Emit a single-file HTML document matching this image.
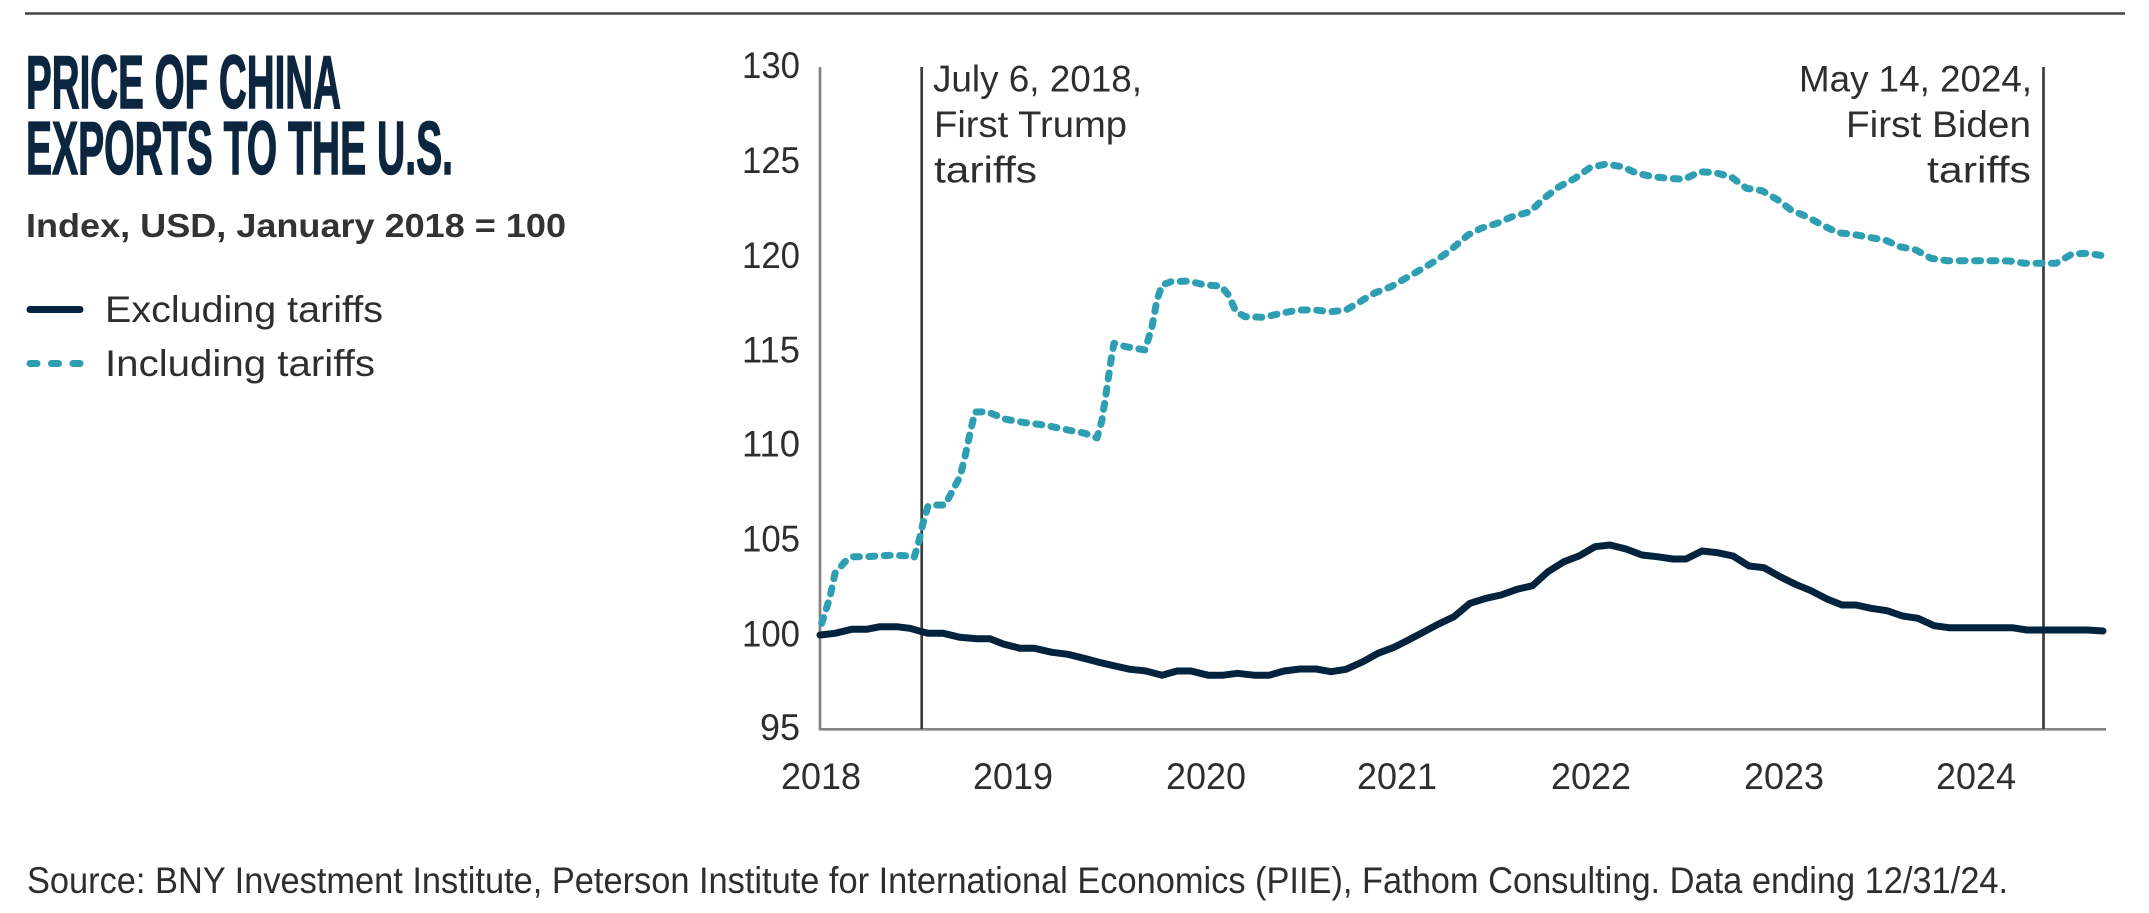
<!DOCTYPE html>
<html>
<head>
<meta charset="utf-8">
<style>
  html, body { margin: 0; padding: 0; background: #ffffff; }
  svg { display: block; }
  .lbl { font-family: "Liberation Sans", sans-serif; font-size: 37.5px; fill: #2e2e2e; }
</style>
</head>
<body>
<svg width="2149" height="913" viewBox="0 0 2149 913" xmlns="http://www.w3.org/2000/svg">
  <rect x="0" y="0" width="2149" height="913" fill="#ffffff"/>
  <!-- top rule -->
  <line x1="25" y1="13.5" x2="2125" y2="13.5" stroke="#444444" stroke-width="2.5"/>

  <!-- Title -->
  <text x="26" y="108" font-family="Liberation Sans, sans-serif" font-weight="bold" font-size="75" fill="#0c2640" stroke="#0c2640" stroke-width="1.5" textLength="315" lengthAdjust="spacingAndGlyphs">PRICE OF CHINA</text>
  <text x="26" y="174" font-family="Liberation Sans, sans-serif" font-weight="bold" font-size="75" fill="#0c2640" stroke="#0c2640" stroke-width="1.5" textLength="427" lengthAdjust="spacingAndGlyphs">EXPORTS TO THE U.S.</text>

  <!-- Subtitle -->
  <text x="26" y="237" font-family="Liberation Sans, sans-serif" font-weight="bold" font-size="33" fill="#333333" textLength="540" lengthAdjust="spacingAndGlyphs">Index, USD, January 2018 = 100</text>

  <!-- Legend -->
  <line x1="30" y1="309.5" x2="80" y2="309.5" stroke="#02233d" stroke-width="7" stroke-linecap="round"/>
  <text class="lbl" x="105" y="322" font-size="38" textLength="278" lengthAdjust="spacingAndGlyphs">Excluding tariffs</text>
  <line x1="30" y1="363.5" x2="37" y2="363.5" stroke="#2e9fb2" stroke-width="7" stroke-linecap="round"/>
  <line x1="51.5" y1="363.5" x2="58.5" y2="363.5" stroke="#2e9fb2" stroke-width="7" stroke-linecap="round"/>
  <line x1="73" y1="363.5" x2="80" y2="363.5" stroke="#2e9fb2" stroke-width="7" stroke-linecap="round"/>
  <text class="lbl" x="105" y="376" font-size="38" textLength="270" lengthAdjust="spacingAndGlyphs">Including tariffs</text>

  <!-- Y axis labels -->
  <g class="lbl" text-anchor="end">
    <text x="800" y="78" textLength="58" lengthAdjust="spacingAndGlyphs">130</text>
    <text x="800" y="173" textLength="58" lengthAdjust="spacingAndGlyphs">125</text>
    <text x="800" y="268" textLength="58" lengthAdjust="spacingAndGlyphs">120</text>
    <text x="800" y="362.5" textLength="58" lengthAdjust="spacingAndGlyphs">115</text>
    <text x="800" y="456.7" textLength="58" lengthAdjust="spacingAndGlyphs">110</text>
    <text x="800" y="551.7" textLength="58" lengthAdjust="spacingAndGlyphs">105</text>
    <text x="800" y="646.7" textLength="58" lengthAdjust="spacingAndGlyphs">100</text>
    <text x="800" y="740" textLength="40" lengthAdjust="spacingAndGlyphs">95</text>
  </g>

  <!-- X axis labels -->
  <g class="lbl" text-anchor="middle">
    <text x="821" y="789" textLength="80" lengthAdjust="spacingAndGlyphs">2018</text>
    <text x="1013" y="789" textLength="80" lengthAdjust="spacingAndGlyphs">2019</text>
    <text x="1206" y="789" textLength="80" lengthAdjust="spacingAndGlyphs">2020</text>
    <text x="1397" y="789" textLength="80" lengthAdjust="spacingAndGlyphs">2021</text>
    <text x="1591" y="789" textLength="80" lengthAdjust="spacingAndGlyphs">2022</text>
    <text x="1784" y="789" textLength="80" lengthAdjust="spacingAndGlyphs">2023</text>
    <text x="1976" y="789" textLength="80" lengthAdjust="spacingAndGlyphs">2024</text>
  </g>

  <!-- Axes -->
  <line x1="820" y1="67" x2="820" y2="730" stroke="#838383" stroke-width="2.7"/>
  <line x1="819" y1="729.3" x2="2106" y2="729.3" stroke="#838383" stroke-width="2.7"/>

  <!-- Annotation lines -->
  <line x1="921.7" y1="67" x2="921.7" y2="729" stroke="#3d3d3d" stroke-width="2.7"/>
  <line x1="2043.5" y1="67" x2="2043.5" y2="729" stroke="#3d3d3d" stroke-width="2.7"/>

  <!-- Annotation texts -->
  <g class="lbl">
    <text x="933" y="91.7" textLength="209" lengthAdjust="spacingAndGlyphs">July 6, 2018,</text>
    <text x="934" y="137" textLength="193" lengthAdjust="spacingAndGlyphs">First Trump</text>
    <text x="934" y="182.7" textLength="103" lengthAdjust="spacingAndGlyphs">tariffs</text>
  </g>
  <g class="lbl" text-anchor="end">
    <text x="2032" y="91.7" textLength="233" lengthAdjust="spacingAndGlyphs">May 14, 2024,</text>
    <text x="2031" y="137" textLength="185" lengthAdjust="spacingAndGlyphs">First Biden</text>
    <text x="2031" y="182.7" textLength="104" lengthAdjust="spacingAndGlyphs">tariffs</text>
  </g>

  <!-- Excluding tariffs series -->
  <polyline fill="none" stroke="#02233d" stroke-width="7" stroke-linejoin="round" stroke-linecap="round"
    points="820,635 835,633.3 851.7,629.3 866.7,629.3 880,626.7 896.7,626.7 910,628.3 921.7,631.7 928.3,633.3 943.3,633.3 960,637.3 976.7,638.7 990,638.7 1003.3,644 1020,648.3 1034.5,648.3 1052,652.3 1068,654.3 1084,658.3 1099,662.3 1115,666 1130,669.3 1146,671 1162,675.3 1177,671 1191,671 1208.5,675.3 1222,675.3 1237.5,673.3 1255,675.3 1269,675.3 1284,671 1300,669 1316,669 1331,671.7 1346,669.3 1363,661.7 1378,653.3 1394,647.3 1407,640.7 1423,632.3 1438,624.3 1454,616.7 1470,603.3 1486,598.3 1501,595 1517,589.3 1532.5,585.7 1548,571.7 1564,561.7 1579,556 1595,546.7 1610,545 1626,549 1642,555 1657,556.7 1673,559 1686,559 1702,551 1717.5,552.7 1733,556 1749,566 1764,567.7 1780,576.7 1795.5,584.3 1811,590.7 1827,599 1842,605 1856,605 1871,608.3 1887,610.7 1902.5,616 1918,618.3 1934,625.7 1949,627.7 2012,627.7 2027,630 2087.5,630 2103,631"/>

  <!-- Including tariffs series -->
  <polyline fill="none" stroke="#2e9fb2" stroke-width="7" stroke-linejoin="round" stroke-linecap="round" stroke-dasharray="6 9.4"
    points="821.7,623.3 825,613 830,596.7 835,573.3 845,561.7 853,556.7 867,556.7 880,555.7 893,555.3 905,555.7 914,557.7 918,545 923,523.3 928,506 937,505 945,505 952,491.7 960,476.7 965,456.7 970,433.3 975,412 987,411.7 1006,419.3 1025,422.7 1044,425 1068,430 1085,433.3 1097,438 1102,420 1106.6,390 1111,360 1114,343.3 1126,346.7 1145,350 1152,326.7 1157,300 1162,285 1171,281.7 1188,281 1205,285 1221,286 1228.5,295 1236,311.7 1245,316.7 1264,317.3 1281,313.3 1298,310 1315,310 1331,311.7 1346,310 1360,301.7 1374,293.3 1391,286.7 1405.5,278.3 1420,270 1434,261.7 1448.5,251.7 1468,235 1481,228.3 1497,223.3 1512,216.7 1530,211.7 1544,198.3 1559,186.7 1575,178.3 1590,167.7 1606,164 1622,166.7 1637,173.3 1653,176.7 1668,178.3 1684,179.3 1700,171.7 1715,172.7 1731,176.7 1746.5,188.3 1762,190.7 1778,200 1791,210 1807,216.7 1822,225 1838,232.7 1853,234.3 1869,237.3 1885,240 1900,246.7 1916,250 1931,258.3 1947,260.7 1963,260.7 1978,260.7 1994,260.7 2009.5,261 2025,263.3 2041,263.3 2056,263.3 2072,254 2087.5,253.3 2105,256"/>

  <!-- Footer -->
  <text class="lbl" x="27" y="893" font-size="32" textLength="1981" lengthAdjust="spacingAndGlyphs">Source: BNY Investment Institute, Peterson Institute for International Economics (PIIE), Fathom Consulting. Data ending 12/31/24.</text>
</svg>
</body>
</html>
